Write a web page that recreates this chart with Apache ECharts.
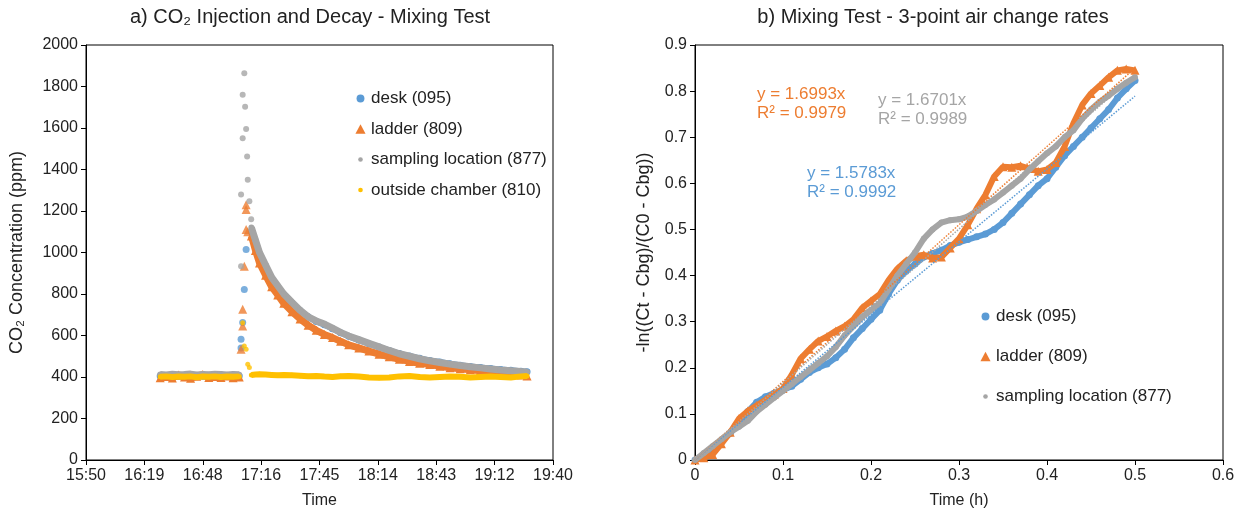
<!DOCTYPE html>
<html>
<head>
<meta charset="utf-8">
<script src="https://cdn.jsdelivr.net/npm/echarts@6/dist/echarts.min.js"></script>
<style>
html, body { margin: 0; padding: 0; background: #fff; }
#chart { width: 1244px; height: 514px; }
</style>
</head>
<body>
<div id="chart"></div>
<script>
// a) CO2 injection and decay (clock time, ppm)
const baseTimes = ['16:27', '16:30', '16:33', '16:36', '16:39', '16:42', '16:45', '16:48', '16:51', '16:54', '16:57', '17:00', '17:03', '17:06']
const deskBase = [405, 403, 406, 404, 402, 405, 407, 404, 403, 405, 406, 404, 402, 405]
const ladderBase = [396, 402, 395, 410, 400, 394, 404, 412, 397, 402, 398, 405, 396, 400]
const samplingBase = [412, 410, 413, 411, 412, 414, 410, 412, 411, 413, 412, 410, 412, 411]
const outsideBase = [401, 403, 400, 402, 401, 403, 399, 402, 401, 403, 400, 402, 401, 403]

const deskSpikeTimes = ['17:06:54', '17:06:54', '17:07:42', '17:08:30', '17:09:24']
const deskSpike = [540, 582, 663, 822, 1014]
const ladderSpikeTimes = ['17:06:54', '17:07:42', '17:07:42', '17:08:30', '17:09:24', '17:09:24', '17:09:24', '17:10:12']
const ladderSpike = [534, 646, 726, 934, 1111, 1207, 1230, 1100]
const samplingSpikeTimes = ['17:06:54', '17:06:54', '17:07:42', '17:07:42', '17:08:30', '17:08:54', '17:09:24', '17:09:54', '17:10:12', '17:11:00', '17:11:54']
const samplingSpike = [934, 1279, 1551, 1760, 1864, 1703, 1595, 1463, 1351, 1247, 1160]
const outsideSpikeTimes = ['17:07:42', '17:08:30', '17:09:24', '17:10:12', '17:11:00']
const outsideSpike = [662, 550, 534, 462, 446]

const decayTimes = ['17:12', '17:14', '17:16', '17:19', '17:22', '17:25', '17:28', '17:32', '17:36', '17:40', '17:44',
  '17:48', '17:52', '17:56', '18:00', '18:05', '18:10', '18:15', '18:20', '18:25', '18:30', '18:35', '18:40',
  '18:45', '18:50', '18:55', '19:00', '19:05', '19:10', '19:15', '19:20', '19:25', '19:28']
const deskDecay = [1100, 1045, 990, 935, 875, 835, 795, 757, 720, 690, 668, 652, 633, 613, 596, 578, 560,
  544, 528, 513, 501, 490, 480, 472, 464, 457, 451, 446, 441, 436, 432, 428, 425]
const ladderDecay = [1080, 1010, 950, 890, 835, 795, 755, 715, 680, 650, 625, 605, 590, 572, 555, 540, 525,
  510, 497, 485, 475, 466, 460, 452, 445, 440, 435, 430, 425, 420, 415, 410, 405]
const samplingDecay = [1120, 1060, 1000, 940, 880, 840, 800, 760, 722, 690, 670, 655, 635, 615, 598, 580, 562,
  545, 528, 512, 500, 488, 478, 470, 462, 455, 449, 444, 439, 434, 430, 426, 424]
const outsideDecay = [410, 412, 413, 412, 410, 408, 410, 408, 406, 404, 405, 402, 400, 404, 405, 402, 398,
  396, 398, 403, 405, 400, 398, 400, 402, 401, 398, 400, 402, 400, 398, 403, 405]

// b) -ln((Ct - Cbg)/(C0 - Cbg)) against hours
const rateHours = [0, 0.01, 0.02, 0.03, 0.04, 0.05, 0.06, 0.07, 0.08, 0.09, 0.1, 0.11, 0.12, 0.13, 0.14, 0.15, 0.16,
  0.17, 0.18, 0.19, 0.2, 0.21, 0.22, 0.23, 0.24, 0.25, 0.26, 0.27, 0.28, 0.29, 0.3, 0.31, 0.32, 0.33, 0.34,
  0.35, 0.36, 0.37, 0.38, 0.39, 0.4, 0.41, 0.42, 0.43, 0.44, 0.45, 0.46, 0.47, 0.48, 0.49, 0.5]
const deskRate = [0, 0.012, 0.025, 0.04, 0.058, 0.08, 0.105, 0.125, 0.137, 0.145, 0.152, 0.16, 0.175, 0.19, 0.2,
  0.208, 0.222, 0.24, 0.265, 0.285, 0.305, 0.325, 0.36, 0.39, 0.41, 0.425, 0.44, 0.448, 0.455, 0.465, 0.472,
  0.478, 0.484, 0.49, 0.5, 0.515, 0.535, 0.555, 0.575, 0.595, 0.61, 0.635, 0.66, 0.68, 0.7, 0.72, 0.74, 0.76,
  0.785, 0.805, 0.823]
const ladderRate = [0, 0.005, 0.012, 0.035, 0.06, 0.09, 0.106, 0.118, 0.13, 0.142, 0.155, 0.185, 0.22, 0.24, 0.258,
  0.268, 0.28, 0.29, 0.305, 0.33, 0.345, 0.36, 0.39, 0.415, 0.432, 0.442, 0.445, 0.438, 0.44, 0.46, 0.48,
  0.51, 0.545, 0.575, 0.615, 0.636, 0.635, 0.638, 0.632, 0.626, 0.63, 0.645, 0.68, 0.73, 0.77, 0.795, 0.812,
  0.83, 0.845, 0.848, 0.845]
const samplingRate = [0, 0.015, 0.03, 0.045, 0.06, 0.072, 0.085, 0.105, 0.12, 0.135, 0.15, 0.165, 0.18, 0.195, 0.21,
  0.225, 0.245, 0.27, 0.29, 0.31, 0.325, 0.34, 0.37, 0.4, 0.425, 0.45, 0.48, 0.5, 0.515, 0.52, 0.522,
  0.528, 0.54, 0.553, 0.565, 0.58, 0.595, 0.61, 0.63, 0.648, 0.665, 0.68, 0.7, 0.715, 0.74, 0.76, 0.777,
  0.79, 0.805, 0.818, 0.83]
// linear fits through the origin, ends at 0.5 h
const fitHours = [0, 0.5]
const deskFit = [0, 0.789]
const ladderFit = [0, 0.85]
const samplingFit = [0, 0.835]

const names = ['desk (095)', 'ladder (809)', 'sampling location (877)', 'outside chamber (810)']
const colors = ['#5B9BD5', '#ED7D31', '#A5A5A5', '#FFC000']
const fontFamily = '"Liberation Sans", Arial, sans-serif'

function toMin (s) {
  const p = s.split(':').map(Number)
  return p[0] * 60 + p[1] + (p[2] || 0) / 60
}
function clockPairs (times, values) {
  return times.map((t, i) => [toMin(t), values[i]])
}
function hourPairs (hours, values) {
  return hours.map((h, i) => [h, values[i]])
}

const symbols = ['circle', 'triangle', 'circle', 'circle']
const symbolSizes = [7, 9, 6, 5]
const bandWidths = [6, 7, 7, 6]
// legend icons: padded paths so the marks keep Excel's small sizes
const legendIcons = [
  'path://M0,0M10,10M8.6,5A3.6,3.6,0,1,1,1.4,5A3.6,3.6,0,1,1,8.6,5Z',
  'path://M0,0M10,10M5,0.6L9.6,9.4L0.4,9.4Z',
  'path://M0,0M10,10M7.1,5A2.1,2.1,0,1,1,2.9,5A2.1,2.1,0,1,1,7.1,5Z',
  'path://M0,0M10,10M7.1,5A2.1,2.1,0,1,1,2.9,5A2.1,2.1,0,1,1,7.1,5Z'
]

const leftSets = [
  [deskBase, deskSpikeTimes, deskSpike, deskDecay],
  [ladderBase, ladderSpikeTimes, ladderSpike, ladderDecay],
  [samplingBase, samplingSpikeTimes, samplingSpike, samplingDecay],
  [outsideBase, outsideSpikeTimes, outsideSpike, outsideDecay]
]

const series = []
leftSets.forEach((set, i) => {
  const common = {
    name: names[i],
    xAxisIndex: 0,
    yAxisIndex: 0,
    symbol: symbols[i],
    symbolSize: symbolSizes[i],
    itemStyle: { color: colors[i] },
    z: 2 + i
  }
  series.push(Object.assign({}, common, {
    type: 'line',
    data: clockPairs(baseTimes, set[0]),
    lineStyle: { color: colors[i], width: bandWidths[i] }
  }))
  series.push(Object.assign({}, common, {
    type: 'scatter',
    data: clockPairs(set[1], set[2])
  }))
  series.push(Object.assign({}, common, {
    type: 'line',
    data: clockPairs(decayTimes, set[3]),
    lineStyle: { color: colors[i], width: bandWidths[i] }
  }))
})

const rightRates = [deskRate, ladderRate, samplingRate]
const rightFits = [deskFit, ladderFit, samplingFit]
rightRates.forEach((vals, i) => {
  series.push({
    name: names[i],
    type: 'line',
    xAxisIndex: 1,
    yAxisIndex: 1,
    symbol: symbols[i],
    symbolSize: symbolSizes[i],
    itemStyle: { color: colors[i] },
    lineStyle: { color: colors[i], width: 6 },
    data: hourPairs(rateHours, vals),
    z: 2 + i
  })
})
rightFits.forEach((vals, i) => {
  series.push({
    name: names[i] + ' fit',
    type: 'line',
    xAxisIndex: 1,
    yAxisIndex: 1,
    symbol: 'none',
    lineStyle: { color: colors[i], width: 1.5, type: 'dotted' },
    data: hourPairs(fitHours, vals),
    z: 10
  })
})

const axisCommon = {
  axisLine: { show: true, onZero: false, lineStyle: { color: '#000', width: 1 } },
  axisTick: { show: true, inside: false, length: 5, lineStyle: { color: '#000' } },
  splitLine: { show: false },
  axisLabel: { color: '#222', fontSize: 16, fontFamily: fontFamily },
  nameTextStyle: { color: '#222', fontSize: 16, fontFamily: fontFamily },
  nameLocation: 'middle'
}
const yNameStyle = { color: '#222', fontSize: 18, fontFamily: fontFamily }

function clockLabel (v) {
  const m = Math.floor(v + 1e-6)
  return Math.floor(m / 60) + ':' + String(m % 60).padStart(2, '0')
}

const chart = echarts.init(document.getElementById('chart'))
chart.setOption({
  animation: false,
  backgroundColor: '#fff',
  grid: [
    { left: 86, right: 691, top: 45, bottom: 53, show: true, borderColor: '#000', borderWidth: 1 },
    { left: 695, right: 21, top: 45, bottom: 53, show: true, borderColor: '#000', borderWidth: 1 }
  ],
  xAxis: [
    Object.assign({}, axisCommon, {
      type: 'value', gridIndex: 0, min: 950.4, max: 1180.8, interval: 28.8,
      name: 'Time', nameGap: 33,
      axisLabel: Object.assign({}, axisCommon.axisLabel, { formatter: clockLabel, margin: 8 })
    }),
    Object.assign({}, axisCommon, {
      type: 'value', gridIndex: 1, min: 0, max: 0.6, interval: 0.1,
      name: 'Time (h)', nameGap: 33,
      axisLabel: Object.assign({}, axisCommon.axisLabel, { formatter: v => String(+v.toFixed(1)), margin: 8 })
    })
  ],
  yAxis: [
    Object.assign({}, axisCommon, {
      type: 'value', gridIndex: 0, min: 0, max: 2000, interval: 200,
      name: 'CO₂ Concentration (ppm)', nameGap: 60, nameTextStyle: yNameStyle,
      axisLabel: Object.assign({}, axisCommon.axisLabel, { formatter: v => String(v) })
    }),
    Object.assign({}, axisCommon, {
      type: 'value', gridIndex: 1, min: 0, max: 0.9, interval: 0.1,
      name: '-ln((Ct - Cbg)/(C0 - Cbg))', nameGap: 42, nameTextStyle: yNameStyle,
      axisLabel: Object.assign({}, axisCommon.axisLabel, { formatter: v => String(+v.toFixed(1)) })
    })
  ],
  legend: [
    {
      left: 350, top: 85, orient: 'vertical', itemGap: 13.5, itemWidth: 11, itemHeight: 11,
      textStyle: { color: '#222', fontSize: 17, fontFamily: fontFamily },
      data: names.map((n, i) => ({ name: n, icon: legendIcons[i] })),
      selectedMode: false
    },
    {
      left: 975, top: 303, orient: 'vertical', itemGap: 23, itemWidth: 11, itemHeight: 11,
      textStyle: { color: '#222', fontSize: 17, fontFamily: fontFamily },
      data: names.slice(0, 3).map((n, i) => ({ name: n, icon: legendIcons[i] })),
      selectedMode: false
    }
  ],
  graphic: [
    { type: 'text', x: 310, y: 17, style: { text: 'a) CO₂ Injection and Decay - Mixing Test', align: 'center', verticalAlign: 'middle', fill: '#222', font: '20px ' + fontFamily } },
    { type: 'text', x: 933, y: 17, style: { text: 'b) Mixing Test - 3-point air change rates', align: 'center', verticalAlign: 'middle', fill: '#222', font: '20px ' + fontFamily } },
    { type: 'text', x: 757, y: 85, style: { text: 'y = 1.6993x\nR² = 0.9979', fill: colors[1], font: '17px ' + fontFamily, lineHeight: 19 } },
    { type: 'text', x: 878, y: 91, style: { text: 'y = 1.6701x\nR² = 0.9989', fill: colors[2], font: '17px ' + fontFamily, lineHeight: 19 } },
    { type: 'text', x: 807, y: 164, style: { text: 'y = 1.5783x\nR² = 0.9992', fill: colors[0], font: '17px ' + fontFamily, lineHeight: 19 } }
  ],
  series: series
})
</script>
</body>
</html>
